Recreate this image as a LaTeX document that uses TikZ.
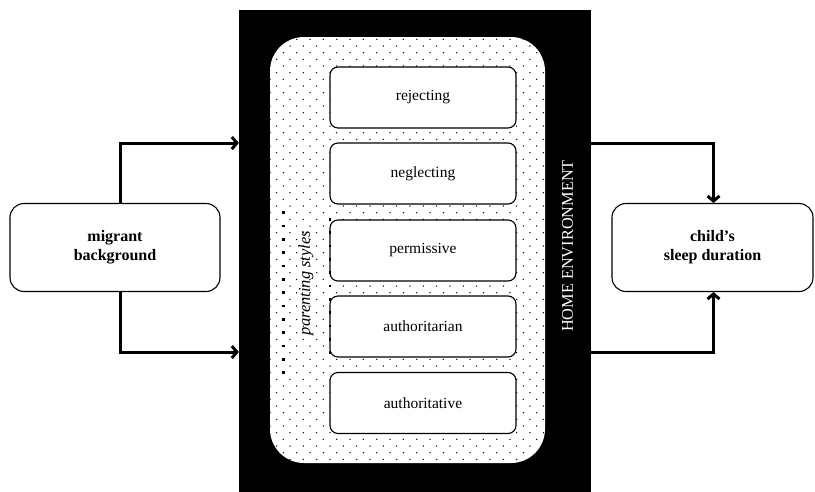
\documentclass[tikz,border=0pt]{standalone}
\usepackage{fontspec}
\setmainfont{Liberation Serif}
\usetikzlibrary{arrows.meta}

\tikzset{
  stylebox/.style={draw, line width=1.1pt, rounded corners=8pt, fill=white,
    minimum width=186pt, minimum height=61pt, inner sep=0pt,
    font=\fontsize{15.5}{18}\selectfont},
  sidebox/.style={draw, line width=1.1pt, rounded corners=14pt, fill=white,
    minimum height=88pt, inner sep=0pt, align=center,
    font=\fontsize{16}{19}\selectfont\bfseries},
  flow/.style={line width=3pt, -{Straight Barb[length=5pt,width=12pt,line width=3pt]}},
  heavydot/.style={fill=black}
}

\begin{document}
\begin{tikzpicture}[x=1pt, y=-1pt]
\useasboundingbox (0,0) rectangle (815,491);

% home environment block
\node[fill=black, minimum width=352pt, minimum height=482pt, inner sep=0pt]
  (home) at (415,250.5) {};
\node[text=white, rotate=90, font=\fontsize{16.3}{19}\selectfont]
  (homelbl) at (567.5,246) {HOME ENVIRONMENT};

% dotted panel of parenting styles
\node[fill=white, rounded corners=34pt, minimum width=275pt, minimum height=426pt, inner sep=0pt]
  (ps) at (407.5,250) {};
\begin{scope}
  \clip[rounded corners=34pt] (270,37) rectangle (545,463);
  \foreach \r in {0,...,64} {
    \pgfmathsetmacro\yy{39.33+\r*6.667}
    \pgfmathsetmacro\off{mod(\r,2)*6.667}
    \foreach \c in {0,...,20} {
      \fill (270+\off+\c*13.333,\yy) circle (0.75);
    }
  }
  % heavier dots along the left side of the label frame
  \foreach \r in {26,28,...,50} {
    \pgfmathsetmacro\yy{39.33+\r*6.667}
    \fill[heavydot] (283.3-1.2,\yy-1.2) rectangle ++(2.4,2.4);
  }
\end{scope}

\node[rotate=90, font=\fontsize{16.5}{19}\selectfont\itshape]
  (pslbl) at (306,283) {parenting styles};

% the five styles
\node[stylebox] (rej)  at (423,97.5)  {rejecting};
\node[stylebox] (neg)  at (423,173.5) {neglecting};
\node[stylebox] (per)  at (423,250.5) {permissive};
\node[stylebox] (autn) at (423,326.5) {authoritarian};
\node[stylebox] (autv) at (423,403)   {authoritative};

% heavier dots along the right side of the label frame
\foreach \r in {27,29,...,47} {
  \pgfmathsetmacro\yy{39.33+\r*6.667}
  \fill[heavydot] (330-1.2,\yy-1.2) rectangle ++(2.4,2.4);
}

% outer variables
\node[sidebox, minimum width=210pt] (mig) at (115,247.5) {migrant\\background};
\node[sidebox, minimum width=201pt] (sleep) at (712.5,247.5) {child's\\sleep duration};

% connectors
\draw[flow] ([xshift=5pt]mig.north) |- (home.west |- 0,143);
\draw[flow] ([xshift=5pt]mig.south) |- (home.west |- 0,352);
\draw[flow] (home.east |- 0,143) -| ([xshift=1pt]sleep.north);
\draw[flow] (home.east |- 0,352) -| ([xshift=1pt]sleep.south);
\end{tikzpicture}
\end{document}
